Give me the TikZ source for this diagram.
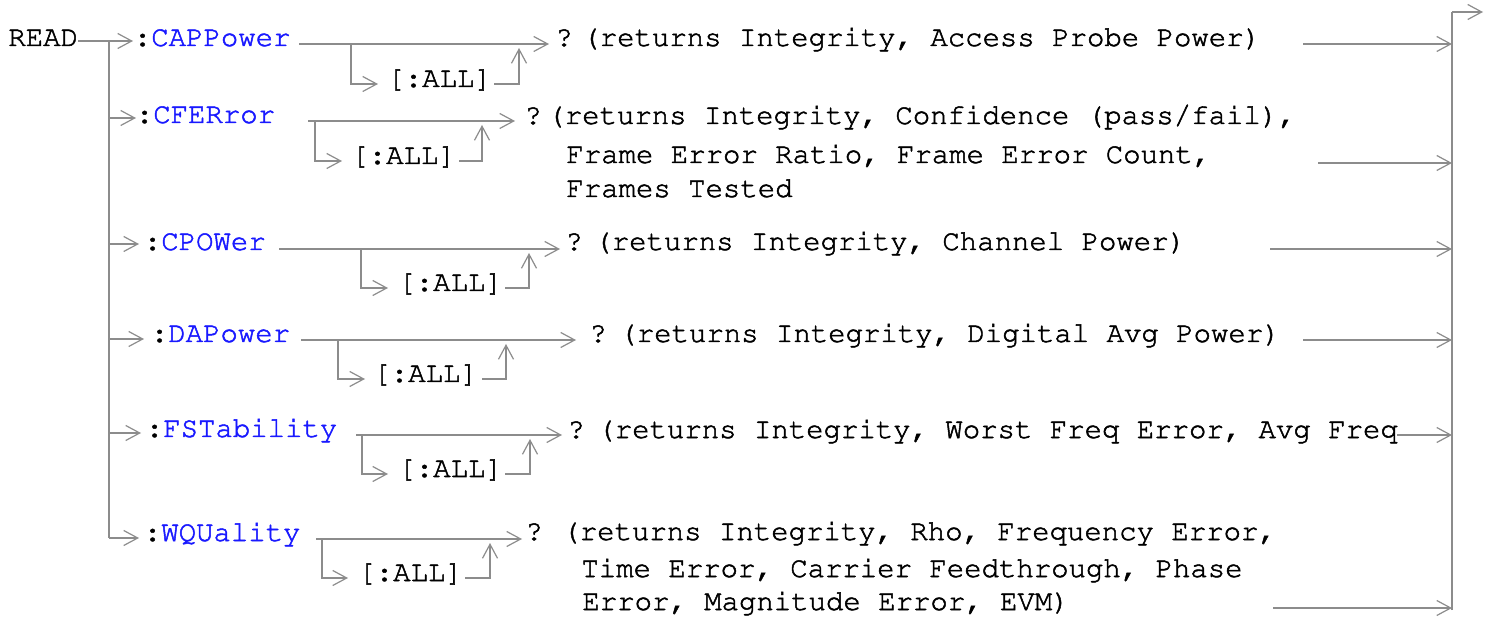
\documentclass[tikz,border=0pt]{standalone}
\usepackage[T1]{fontenc}
\usetikzlibrary{arrows.meta}
\definecolor{linegray}{RGB}{140,140,140}
\definecolor{cmdblue}{RGB}{25,25,255}
% Courier, slightly thickened (fill + thin stroke)
\newcommand{\synfont}{\fontfamily{pcr}\fontseries{m}\fontsize{14.5}{17}\selectfont\special{pdf:literal direct 2 Tr 0.25 w}}

\begin{document}
\begin{tikzpicture}[
  x=0.5pt, y=-0.5pt,
  syn/.style={draw=linegray, line width=1pt},
  synarrow/.style={syn, -{Straight Barb[length=7pt, width=7.5pt, line width=0.6pt]}},
  kw/.style={font=\synfont, inner sep=0pt, anchor=base west}
]
  \useasboundingbox (0,0) rectangle (1492,619);

  % READ and the two rails
  \node[kw] (read) at (8,46) {READ};
  \coordinate (rail-top) at (109,41);
  \coordinate (rail-bot) at (109,538);
  \coordinate (exit-top) at (1452,12);
  \coordinate (exit-bot) at (1452,610);
  \coordinate (exit-out) at (1483,12);
  \draw[syn] (rail-top) -- (rail-bot);
  \draw[syn] (exit-bot) -- (exit-top);
  \draw[synarrow] (exit-top) -- (exit-out);

  % :CAPPower
  \node[kw] (cap) at (133.5,46) {:\textcolor{cmdblue}{CAPPower}};
  \node[kw] (capall) at (387,87) {[:ALL]};
  \node[kw] (capq) at (555,46) {?};
  \node[kw] (capret) at (582,46) {(returns Integrity, Access Probe Power)};
  \coordinate (cap-a) at (299,44);
  \coordinate (cap-b) at (351,44);
  \coordinate (cap-c) at (549,44);
  \coordinate (cap-d) at (378,84);
  \coordinate (cap-e) at (494,84);
  \coordinate (cap-f) at (519,48);
  \coordinate (cap-g) at (1303,44);
  \draw[synarrow] (read.east |- rail-top) -- (133,41);
  \draw[synarrow] (cap-a) -- (cap-c);
  \draw[synarrow] (cap-b) |- (cap-d);
  \draw[synarrow] (cap-e) -| (cap-f);
  \draw[synarrow] (cap-g) -- (cap-g -| exit-top);

  % :CFERror
  \node[kw] (cfe) at (135.5,123) {:\textcolor{cmdblue}{CFERror}};
  \node[kw] (cfeall) at (351,164) {[:ALL]};
  \node[kw] (cfeq) at (524,124) {?};
  \node[kw] (cferet) at (547,124) {(returns Integrity, Confidence (pass/fail),};
  \node[kw] (cferet2) at (566,163) {Frame Error Ratio, Frame Error Count,};
  \node[kw] (cferet3) at (566,197) {Frames Tested};
  \coordinate (cfe-tap) at (109,118);
  \coordinate (cfe-a) at (308,121);
  \coordinate (cfe-b) at (315,121);
  \coordinate (cfe-c) at (515,121);
  \coordinate (cfe-d) at (342,161);
  \coordinate (cfe-e) at (459,161);
  \coordinate (cfe-f) at (482,125);
  \coordinate (cfe-g) at (1318,163);
  \draw[synarrow] (cfe-tap) -- (136,118);
  \draw[synarrow] (cfe-a) -- (cfe-c);
  \draw[synarrow] (cfe-b) |- (cfe-d);
  \draw[synarrow] (cfe-e) -| (cfe-f);
  \draw[synarrow] (cfe-g) -- (cfe-g -| exit-top);

  % :CPOWer
  \node[kw] (cpo) at (143.5,250) {:\textcolor{cmdblue}{CPOWer}};
  \node[kw] (cpoall) at (398,291) {[:ALL]};
  \node[kw] (cpoq) at (565,250) {?};
  \node[kw] (cporet) at (594,250) {(returns Integrity, Channel Power)};
  \coordinate (cpo-tap) at (109,244);
  \coordinate (cpo-a) at (279,249);
  \coordinate (cpo-b) at (361,249);
  \coordinate (cpo-c) at (560,249);
  \coordinate (cpo-d) at (388,288);
  \coordinate (cpo-e) at (505,288);
  \coordinate (cpo-f) at (529,253);
  \coordinate (cpo-g) at (1270,249);
  \draw[synarrow] (cpo-tap) -- (139,244);
  \draw[synarrow] (cpo-a) -- (cpo-c);
  \draw[synarrow] (cpo-b) |- (cpo-d);
  \draw[synarrow] (cpo-e) -| (cpo-f);
  \draw[synarrow] (cpo-g) -- (cpo-g -| exit-top);

  % :DAPower
  \node[kw] (dap) at (150.5,342) {:\textcolor{cmdblue}{DAPower}};
  \node[kw] (dapall) at (373,382) {[:ALL]};
  \node[kw] (dapq) at (589,342) {?};
  \node[kw] (dapret) at (619,342) {(returns Integrity, Digital Avg Power)};
  \coordinate (dap-tap) at (109,339);
  \coordinate (dap-a) at (301,340);
  \coordinate (dap-b) at (338,340);
  \coordinate (dap-c) at (576,340);
  \coordinate (dap-d) at (365,379);
  \coordinate (dap-e) at (482,379);
  \coordinate (dap-f) at (506,344);
  \coordinate (dap-g) at (1303,340);
  \draw[synarrow] (dap-tap) -- (144,339);
  \draw[synarrow] (dap-a) -- (dap-c);
  \draw[synarrow] (dap-b) |- (dap-d);
  \draw[synarrow] (dap-e) -| (dap-f);
  \draw[synarrow] (dap-g) -- (dap-g -| exit-top);

  % :FSTability
  \node[kw] (fst) at (145.5,437) {:\textcolor{cmdblue}{FSTability}};
  \node[kw] (fstall) at (398,477) {[:ALL]};
  \node[kw] (fstq) at (567,438) {?};
  \node[kw] (fstret) at (597,438) {(returns Integrity, Worst Freq Error, Avg Freq};
  \coordinate (fst-tap) at (109,433);
  \coordinate (fst-a) at (356,435);
  \coordinate (fst-b) at (362,435);
  \coordinate (fst-c) at (562,435);
  \coordinate (fst-d) at (388,474);
  \coordinate (fst-e) at (505,474);
  \coordinate (fst-f) at (530,439);
  \coordinate (fst-g) at (1397,435);
  \draw[synarrow] (fst-tap) -- (141,433);
  \draw[synarrow] (fst-a) -- (fst-c);
  \draw[synarrow] (fst-b) |- (fst-d);
  \draw[synarrow] (fst-e) -| (fst-f);
  \draw[synarrow] (fst-g) -- (fst-g -| exit-top);

  % :WQUality
  \node[kw] (wqu) at (143.5,541) {:\textcolor{cmdblue}{WQUality}};
  \node[kw] (wquall) at (358,581) {[:ALL]};
  \node[kw] (wquq) at (525,540) {?};
  \node[kw] (wquret) at (562,540) {(returns Integrity, Rho, Frequency Error,};
  \node[kw] (wquret2) at (581,577) {Time Error, Carrier Feedthrough, Phase};
  \node[kw] (wquret3) at (582,610) {Error, Magnitude Error, EVM)};
  \coordinate (wqu-a) at (316,539);
  \coordinate (wqu-b) at (322,539);
  \coordinate (wqu-c) at (522,539);
  \coordinate (wqu-d) at (348,578);
  \coordinate (wqu-e) at (465,578);
  \coordinate (wqu-f) at (490,543);
  \coordinate (wqu-g) at (1273,608);
  \draw[synarrow] (rail-bot) -- (139,538);
  \draw[synarrow] (wqu-a) -- (wqu-c);
  \draw[synarrow] (wqu-b) |- (wqu-d);
  \draw[synarrow] (wqu-e) -| (wqu-f);
  \draw[synarrow] (wqu-g) -- (wqu-g -| exit-top);
\end{tikzpicture}
\end{document}
